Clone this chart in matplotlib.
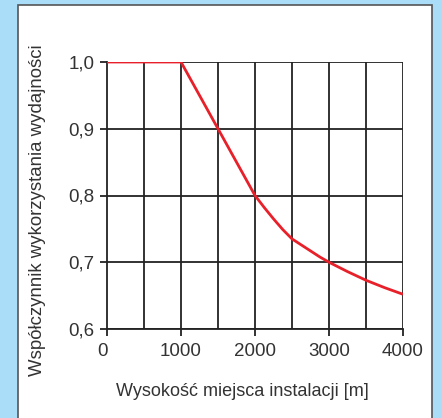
import matplotlib
matplotlib.use("Agg")
import matplotlib.pyplot as plt
from matplotlib.patches import Rectangle
from matplotlib.transforms import ScaledTranslation
import numpy as np

plt.rcParams['font.family'] = ['Liberation Sans', 'DejaVu Sans']

altitude = [0, 1000, 1500, 2000, 2125, 2250, 2375, 2500, 2625, 2750, 2875,
            3000, 3250, 3500, 3750, 4000]
factor = [1.0, 1.0, 0.9, 0.8, 0.782, 0.765, 0.749, 0.735, 0.726, 0.717, 0.708,
          0.700, 0.686, 0.673, 0.662, 0.652]

x_ticks = [0, 1000, 2000, 3000, 4000]
x_tick_labels = ["0", "1000", "2000", "3000", "4000"]
x_grid = [500, 1000, 1500, 2000, 2500, 3000, 3500, 4000]
y_ticks = [0.6, 0.7, 0.8, 0.9, 1.0]
y_tick_labels = ["0,6", "0,7", "0,8", "0,9", "1,0"]

xlabel = "Wysokość miejsca instalacji [m]"
ylabel = "Współczynnik wykorzystania wydajności"

W, H = 442, 418
fig = plt.figure(figsize=(W / 100, H / 100), dpi=100)
fig.patch.set_facecolor('#a9ddf8')

panel = Rectangle((18 / W, -0.05), (432 - 18) / W, 1.05 - 5 / H,
                  transform=fig.transFigure, facecolor='white',
                  edgecolor='#555555', linewidth=1.2, zorder=-5)
fig.patches.append(panel)

ax = fig.add_axes([107 / W, 1 - 329 / H, (403 - 107) / W, (329 - 62) / H])
ax.set_zorder(2)
ax.set_facecolor('none')
ax.set_xlim(0, 4000)
ax.set_ylim(0.6, 1.0)

for gx in x_grid:
    ax.axvline(gx, color='#222222', linewidth=1.3, zorder=1)
for gy in y_ticks:
    ax.axhline(gy, color='#222222', linewidth=1.3, zorder=1)

ax.plot(altitude, factor, color='#e8202a', linewidth=2.0, zorder=3,
        solid_capstyle='butt', solid_joinstyle='round')

for s in ['top', 'right']:
    ax.spines[s].set_visible(False)
for s in ['left', 'bottom']:
    ax.spines[s].set_color('#222222')
    ax.spines[s].set_linewidth(1.3)

ax.set_xticks(x_ticks)
ax.set_xticklabels(x_tick_labels)
ax.set_yticks(y_ticks)
ax.set_yticklabels(y_tick_labels)
ax.tick_params(axis='both', direction='out', length=5, width=1.3,
               color='#222222', labelcolor='#333333', labelsize=13.5)
ax.tick_params(axis='x', pad=5)
ax.tick_params(axis='y', pad=4)

# the "0" label sits slightly left of its tick in the reference
first = ax.get_xticklabels()[0]
first.set_transform(first.get_transform() + ScaledTranslation(-4 / 100, 0, fig.dpi_scale_trans))

ax.set_xlabel(xlabel, fontsize=13, color='#333333')
ax.xaxis.set_label_coords((242.5 - 107) / (403 - 107), -(392 - 329) / (329 - 62),
                          transform=ax.transAxes)
ax.xaxis.label.set_va('center')
ax.set_ylabel(ylabel, fontsize=13.4, color='#333333')
ax.yaxis.set_label_coords(-(107 - 38) / (403 - 107), (329 - 210) / (329 - 62))
ax.yaxis.label.set_va('center')

fig.savefig("out.png", dpi=100, facecolor=fig.get_facecolor())
